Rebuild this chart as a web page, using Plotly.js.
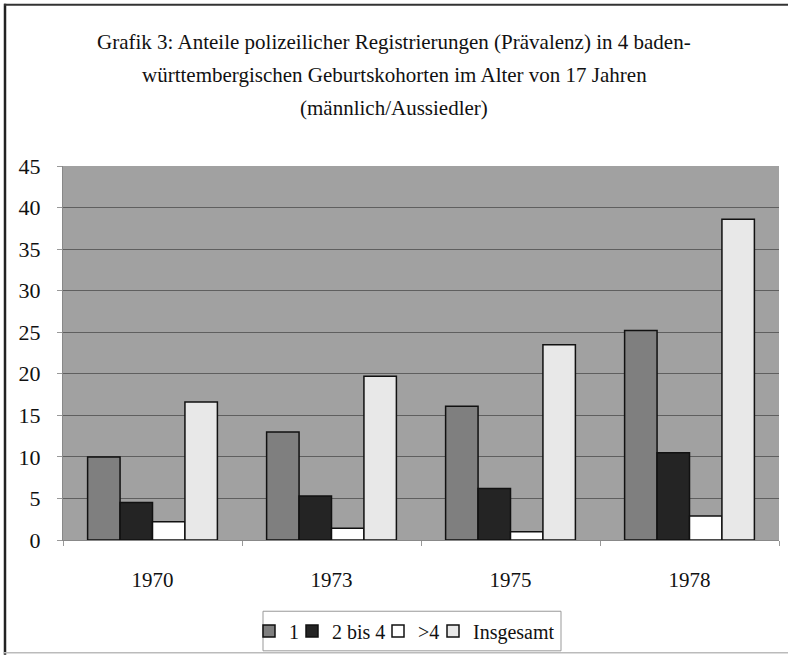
<!DOCTYPE html>
<html>
<head>
<meta charset="utf-8">
<script src="https://cdn.plot.ly/plotly-3.0.1.min.js"></script>
<style>
html,body{margin:0;padding:0;background:#fff;}
#chart{width:788px;height:660px;}
</style>
</head>
<body>
<div id="chart"></div>
<script>
const categories = ["1970", "1973", "1975", "1978"];
const seriesNames = ["1", "2 bis 4", ">4", "Insgesamt"];
const s1 = [10.0, 13.0, 16.1, 25.2];
const s2bis4 = [4.5, 5.3, 6.2, 10.5];
const sGt4 = [2.2, 1.4, 1.0, 2.9];
const sTotal = [16.6, 19.7, 23.5, 38.6];
const yTicks = [0, 5, 10, 15, 20, 25, 30, 35, 40, 45];
const titleLines = [
  "Grafik 3: Anteile polizeilicher Registrierungen (Prävalenz) in 4 baden-",
  "württembergischen Geburtskohorten im Alter von 17 Jahren",
  "(männlich/Aussiedler)"
];

const colors = ["#7f7f7f", "#242424", "#ffffff", "#e8e8e8"];
const values = [s1, s2bis4, sGt4, sTotal];
const FONT = "Liberation Serif, Times New Roman, serif";

const PL = 63, PW = 716;
const plotTop = 166, plotBottom = 544;
const H = plotBottom - plotTop;
function py(Y){ return (plotBottom - Y) / H; }
function px(X){ return (X - PL) / PW; }

const legendIds = ["legend", "legend2", "legend3", "legend4"];
const traces = values.map((v, i) => ({
  type: "bar",
  name: seriesNames[i],
  x: categories,
  y: v,
  legend: legendIds[i],
  marker: {color: colors[i], line: {color: "#111", width: 1.5}}
}));

const titleY = [41, 74, 107];
const annotations = titleLines.map((t, i) => ({
  text: t, xref: "paper", yref: "paper",
  x: px(394), y: py(titleY[i]),
  xanchor: "center", yanchor: "middle", showarrow: false,
  font: {family: FONT, size: 21, color: "#111"}
}));

const swatchCenters = [269, 312, 398, 453];
const legendBase = {
  orientation: "h", xanchor: "left", yanchor: "middle",
  font: {family: FONT, size: 20, color: "#111"},
  borderwidth: 0, bgcolor: "rgba(0,0,0,0)", itemwidth: 30
};

const layout = {
  width: 788, height: 660,
  margin: {l: PL, r: 788 - PL - PW, t: plotTop, b: 660 - plotBottom},
  paper_bgcolor: "#ffffff",
  plot_bgcolor: "#a1a1a1",
  barmode: "group",
  bargap: 0.275,
  bargroupgap: 0,
  showlegend: true,
  xaxis: {
    type: "category",
    showline: true, linecolor: "#888", linewidth: 1,
    ticks: "outside", tickson: "boundaries", ticklen: 5, tickcolor: "#999",
    tickfont: {family: FONT, size: 21, color: "#111"},
    ticklabelstandoff: 21,
    showgrid: false, zeroline: false
  },
  yaxis: {
    range: [0, 45],
    tickvals: yTicks, ticktext: yTicks.map(String),
    showline: true, linecolor: "#888", linewidth: 1,
    ticks: "outside", ticklen: 5, tickcolor: "#999",
    tickfont: {family: FONT, size: 22, color: "#111"},
    ticklabelstandoff: 12,
    showgrid: true, gridcolor: "#5f5f5f", gridwidth: 1,
    zeroline: false
  },
  annotations: annotations,
  shapes: [
    {type: "rect", xref: "paper", yref: "paper", x0: px(263), x1: px(561), y0: py(616), y1: py(656), line: {color: "#999", width: 1}, fillcolor: "#fff", layer: "below"},
    {type: "line", xref: "paper", yref: "paper", x0: px(5), x1: px(5), y0: py(2), y1: py(660), line: {color: "#222", width: 2.5}},
    {type: "line", xref: "paper", yref: "paper", x0: px(4), x1: px(788), y0: py(3), y1: py(3), line: {color: "#333", width: 2}},
    {type: "line", xref: "paper", yref: "paper", x0: px(4), x1: px(788), y0: py(658), y1: py(658), line: {color: "#bbb", width: 1.5}}
  ]
};
legendIds.forEach((id, i) => {
  layout[id] = Object.assign({}, legendBase, {x: px(swatchCenters[i] - 20), y: py(636)});
});

Plotly.newPlot("chart", traces, layout, {displayModeBar: false, staticPlot: true});
</script>
</body>
</html>
